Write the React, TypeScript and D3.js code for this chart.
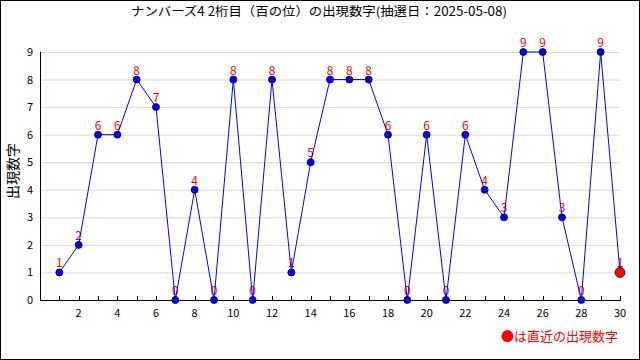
import { useEffect, useRef } from 'react';
import * as d3 from 'd3';

const draws = d3.range(1, 31);
const digits = [1, 2, 6, 6, 8, 7, 0, 4, 0, 8, 0, 8, 1, 5, 8, 8, 8, 6, 0, 6, 0, 6, 4, 3, 9, 9, 3, 0, 9, 1];
const yTicks = d3.range(0, 10);
const xLabels = d3.range(2, 31, 2);

const W = 640;
const H = 360;
const FONT = '"Noto Sans CJK JP", "DejaVu Sans", sans-serif';

export default function App() {
  const svgRef = useRef<SVGSVGElement>(null);

  useEffect(() => {
    const svg = d3.select(svgRef.current);
    svg.selectAll('*').remove();

    const x = d3.scaleLinear().domain([0, 30]).range([40, 620]);
    const y = d3.scaleLinear().domain([0, 9]).range([300, 52]);

    // frame
    svg.append('rect')
      .attr('x', 0.5).attr('y', 0.5)
      .attr('width', W - 1).attr('height', H - 1)
      .attr('fill', '#fff').attr('stroke', '#000');

    svg.append('text')
      .attr('x', 319).attr('y', 16)
      .attr('text-anchor', 'middle')
      .attr('textLength', 376)
      .attr('lengthAdjust', 'spacingAndGlyphs')
      .style('font', `12.5px ${FONT}`)
      .text('ナンバーズ4 2桁目（百の位）の出現数字(抽選日：2025-05-08)');

    // grid
    svg.selectAll('.grid')
      .data(yTicks.filter((d) => d > 0))
      .join('line')
      .attr('x1', x(0)).attr('x2', x(30))
      .attr('y1', (d) => y(d) + 0.5).attr('y2', (d) => y(d) + 0.5)
      .attr('stroke', '#d8d8d8');

    // y labels
    svg.selectAll('.ylab')
      .data(yTicks)
      .join('text')
      .attr('x', 33).attr('y', (d) => y(d) + 4)
      .attr('text-anchor', 'end')
      .style('font', `11px ${FONT}`)
      .text((d) => d);

    // axes
    svg.append('line')
      .attr('x1', x(0) + 0.5).attr('x2', x(0) + 0.5)
      .attr('y1', y(9)).attr('y2', y(0))
      .attr('stroke', '#000');
    svg.append('line')
      .attr('x1', x(0)).attr('x2', x(30) + 1)
      .attr('y1', y(0) + 0.5).attr('y2', y(0) + 0.5)
      .attr('stroke', '#000');
    svg.selectAll('.xtick')
      .data(draws)
      .join('line')
      .attr('x1', (d) => Math.round(x(d)) + 0.5).attr('x2', (d) => Math.round(x(d)) + 0.5)
      .attr('y1', y(0) - 4).attr('y2', y(0))
      .attr('stroke', '#000');
    svg.selectAll('.xlab')
      .data(xLabels)
      .join('text')
      .attr('x', (d) => x(d)).attr('y', 317)
      .attr('text-anchor', 'middle')
      .style('font', `11px ${FONT}`)
      .text((d) => d);

    svg.append('text')
      .attr('transform', `translate(18,${171}) rotate(-90)`)
      .attr('text-anchor', 'middle')
      .style('font', `14px ${FONT}`)
      .text('出現数字');

    // value labels (under the line)
    svg.selectAll('.vlab')
      .data(digits)
      .join('text')
      .attr('x', (d, i) => x(draws[i]))
      .attr('y', (d) => y(d) - 5)
      .attr('text-anchor', 'middle')
      .attr('fill', '#ff0000')
      .style('font', `12px ${FONT}`)
      .text((d) => d);

    const lineGen = d3.line<number>()
      .x((d, i) => x(draws[i]))
      .y((d) => y(d));
    svg.append('path')
      .attr('d', lineGen(digits))
      .attr('fill', 'none')
      .attr('stroke', '#0000ff')
      .attr('stroke-width', 1);

    svg.selectAll('.dot')
      .data(digits)
      .join('circle')
      .attr('cx', (d, i) => x(draws[i]))
      .attr('cy', (d) => y(d))
      .attr('r', (d, i) => (i === digits.length - 1 ? 5 : 3.5))
      .attr('fill', (d, i) => (i === digits.length - 1 ? '#ff0000' : '#0000ff'))
      .attr('stroke', '#000033')
      .attr('stroke-width', 0.8);

    // legend
    svg.append('text')
      .attr('x', 618).attr('y', 341)
      .attr('text-anchor', 'end')
      .attr('fill', '#ff0000')
      .style('font', `13px ${FONT}`)
      .text('●は直近の出現数字');
  }, []);

  return (
    <svg
      ref={svgRef}
      width={W}
      height={H}
      style={{ position: 'absolute', left: 0, top: 0 }}
    />
  );
}
